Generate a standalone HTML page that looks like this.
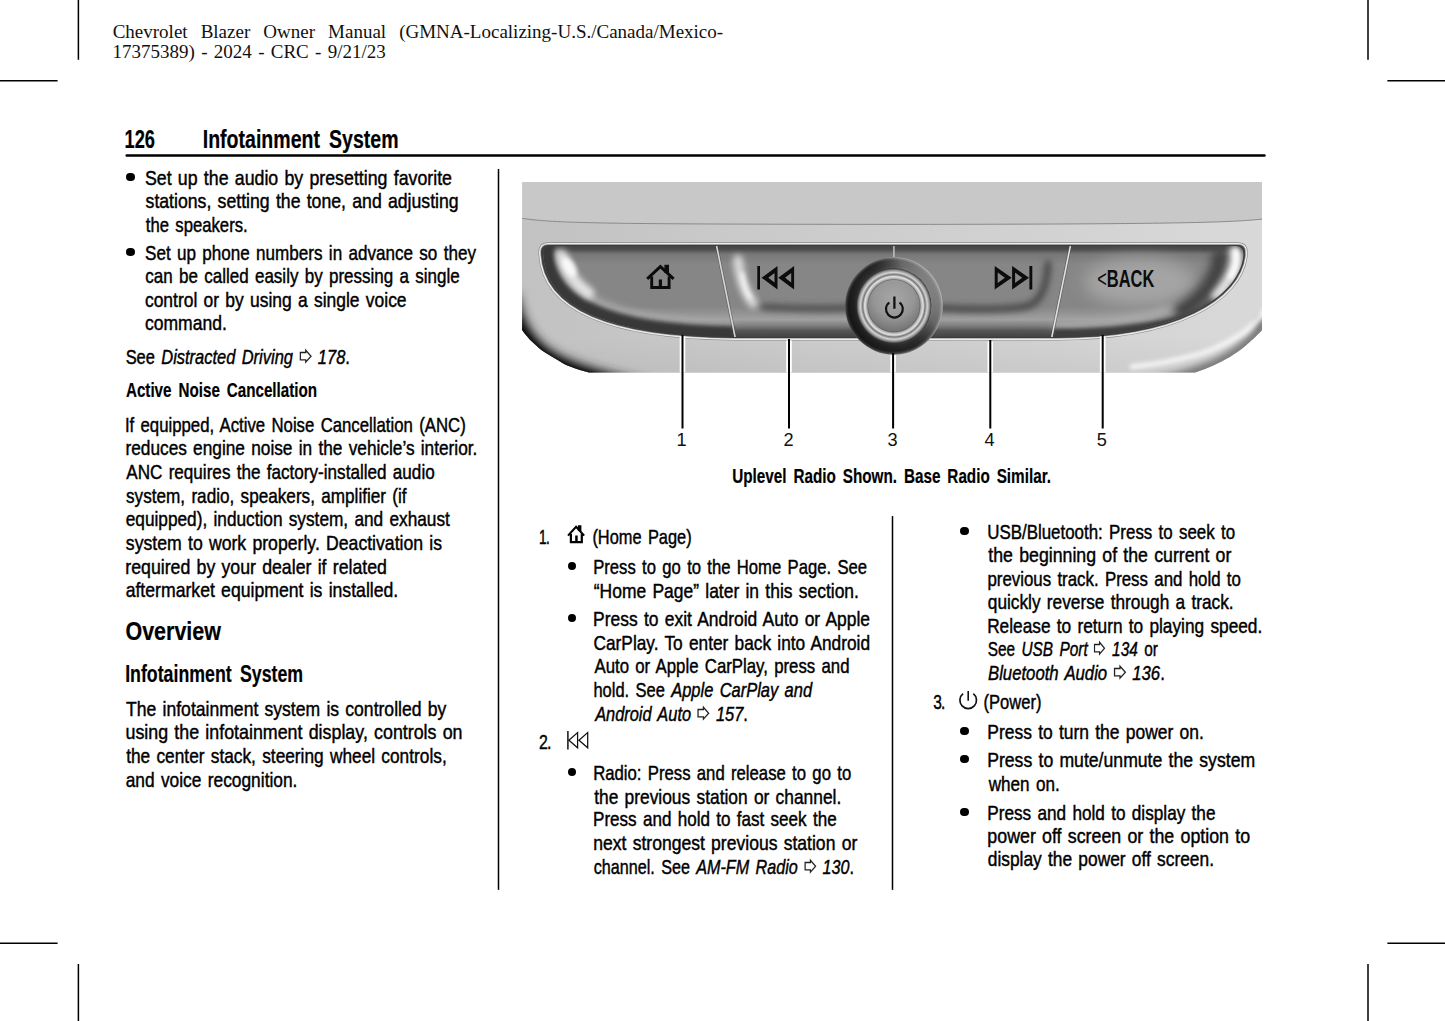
<!DOCTYPE html>
<html lang="en"><head><meta charset="utf-8"><title>Infotainment System</title>
<style>
html,body{margin:0;padding:0;background:#fff}
body{width:1445px;height:1021px;position:relative;overflow:hidden;font-family:"Liberation Sans",sans-serif;color:#000}
#gfx{position:absolute;left:0;top:0}
.t{position:absolute;left:0;white-space:nowrap;transform-origin:0 0;line-height:1;margin:0;padding:0}
.b{font-size:21px;-webkit-text-stroke:0.45px #000}
.n{font-size:21px;-webkit-text-stroke:0.45px #000;letter-spacing:-1px}
.bb{font-size:21px;font-weight:bold;-webkit-text-stroke:0.2px #000}
.s{font-family:"Liberation Serif",serif;font-size:19px;color:#111}
.h1{font-size:25.5px;font-weight:bold;-webkit-text-stroke:0.2px #000}
.h2{font-size:25.5px;font-weight:bold;-webkit-text-stroke:0.2px #000}
.h3{font-size:23px;font-weight:bold;-webkit-text-stroke:0.2px #000}
.ar{display:inline-block;width:15.6px;height:14.4px;vertical-align:0.6px;overflow:visible}
.ic{position:absolute;overflow:visible}
.dot{position:absolute;width:8.4px;height:8.4px;border-radius:50%;background:#000}
i{font-style:italic}
</style></head><body>
<svg id="gfx" width="1445" height="1021" viewBox="0 0 1445 1021">
<defs>
  <linearGradient id="bgLowH" x1="521" y1="0" x2="1262" y2="0" gradientUnits="userSpaceOnUse">
    <stop offset="0" stop-color="#c2c2c2"/><stop offset="0.35" stop-color="#cbcbcb"/><stop offset="0.7" stop-color="#d2d2d2"/><stop offset="1" stop-color="#d9d9d9"/>
  </linearGradient>
  <linearGradient id="bgLowV" x1="0" y1="224" x2="0" y2="373" gradientUnits="userSpaceOnUse">
    <stop offset="0" stop-color="#000" stop-opacity="0"/><stop offset="0.75" stop-color="#000" stop-opacity="0"/><stop offset="1" stop-color="#000" stop-opacity="0.04"/>
  </linearGradient>
  <linearGradient id="face" x1="0" y1="246" x2="0" y2="338" gradientUnits="userSpaceOnUse">
    <stop offset="0" stop-color="#444"/><stop offset="0.035" stop-color="#4c4c4c"/><stop offset="0.09" stop-color="#787878"/><stop offset="0.2" stop-color="#868686"/><stop offset="0.66" stop-color="#868686"/><stop offset="0.8" stop-color="#a0a0a0"/><stop offset="0.87" stop-color="#7c7c7c"/><stop offset="0.92" stop-color="#565656"/><stop offset="1" stop-color="#404040"/>
  </linearGradient>
  <radialGradient id="knobOuter" cx="893.9" cy="305.8" r="48.8" gradientUnits="userSpaceOnUse">
    <stop offset="0.74" stop-color="#404040"/><stop offset="0.82" stop-color="#2a2a2a"/><stop offset="0.93" stop-color="#222"/><stop offset="0.97" stop-color="#444"/><stop offset="1" stop-color="#808080"/>
  </radialGradient>
  <linearGradient id="knobSheen" x1="850" y1="330" x2="940" y2="280" gradientUnits="userSpaceOnUse">
    <stop offset="0" stop-color="#000" stop-opacity="0.4"/><stop offset="0.4" stop-color="#000" stop-opacity="0"/><stop offset="0.75" stop-color="#fff" stop-opacity="0.3"/><stop offset="1" stop-color="#fff" stop-opacity="0.5"/>
  </linearGradient>
  <radialGradient id="knobMid" cx="893.9" cy="305.8" r="37.5" gradientUnits="userSpaceOnUse">
    <stop offset="0.68" stop-color="#3c3c3c"/><stop offset="0.72" stop-color="#a8a8a8"/><stop offset="0.78" stop-color="#e4e4e4"/><stop offset="0.83" stop-color="#787878"/><stop offset="0.89" stop-color="#d4d4d4"/><stop offset="0.95" stop-color="#8c8c8c"/><stop offset="1" stop-color="#303030"/>
  </radialGradient>
  <radialGradient id="knobIn" cx="893.9" cy="298" r="36" gradientUnits="userSpaceOnUse">
    <stop offset="0" stop-color="#a6a6a6"/><stop offset="0.55" stop-color="#969696"/><stop offset="1" stop-color="#6e6e6e"/>
  </radialGradient>
  <path id="outl" d="M548 243.6 H1238.4 Q1246.4 243.9 1246.4 252 V256 C1241 300 1178 340 1053.4 339.2 H734 C598 338 541 305 539.7 252 Q539.7 243.9 548 243.6 Z"/>
  <path id="inner" d="M551 246.1 H1235.5 Q1243.4 246.4 1243.4 253 V256 C1238.5 297.5 1176.5 337.5 1053 337 H734.4 C600 335.8 544.5 303.5 543.2 253 Q543.2 246.4 551 246.1 Z"/>
  <clipPath id="figclip"><path d="M522.1 181.9 H1262 V330.3 C1259.5 333 1257 335.5 1254.8 337.4 C1252 340 1249 342.6 1246.4 344.9 C1243.5 347.2 1241 349.4 1238.1 351.5 C1235 353.6 1232.5 355.2 1229.8 356.9 C1227 358.5 1224.2 360 1221.5 361.5 C1218.8 363 1216 364.3 1213.2 365.6 C1210.5 366.8 1207.7 368 1204.9 369 C1202 370.1 1199.4 371 1196.6 371.9 L1195 372.5 H589 C583 371 577 369 570.8 366.7 C566 365 562 363 558.4 360.4 C554 358 550 355.5 545.9 353 C541 350 537 346.5 533.5 343 C529 339 525 334 522.1 329.9 Z"/></clipPath>
  <clipPath id="innerclip"><use href="#inner"/></clipPath>
  <filter id="b1" filterUnits="userSpaceOnUse" x="480" y="140" width="840" height="280"><feGaussianBlur stdDeviation="1.2"/></filter>
  <filter id="b2" filterUnits="userSpaceOnUse" x="480" y="140" width="840" height="280"><feGaussianBlur stdDeviation="2"/></filter>
  <filter id="b3" filterUnits="userSpaceOnUse" x="480" y="140" width="840" height="280"><feGaussianBlur stdDeviation="3"/></filter>
  <filter id="b5" filterUnits="userSpaceOnUse" x="460" y="120" width="880" height="320"><feGaussianBlur stdDeviation="5"/></filter>
  <filter id="b8" filterUnits="userSpaceOnUse" x="440" y="100" width="920" height="360"><feGaussianBlur stdDeviation="8"/></filter>
</defs>
<!-- crop marks -->
<g stroke="#000" stroke-width="1.5" fill="none">
  <path d="M78.4 0V59.8M0 80.8H57.6M1368 0V59.8M1387.4 80.8H1445M0 943.2H57.6M78.4 964V1021M1387.4 943.2H1445M1368 964V1021"/>
</g>
<!-- rules -->
<rect x="125.5" y="154.15" width="1140.2" height="2.6" rx="1" fill="#000"/>
<rect x="497.75" y="169" width="1.5" height="720.9" fill="#000"/>
<rect x="891.75" y="516.1" width="1.5" height="373.8" fill="#000"/>
<!-- figure -->
<g clip-path="url(#figclip)">
  <rect x="521" y="181" width="742" height="193" fill="#c8c8c8"/>
  <path d="M521 218.2 C540 221 560 222.1 600 222.9 C640 223.7 700 224.2 893 224.4 C1090 224.2 1150 223.5 1200 222.4 C1230 221.6 1248 220.6 1263 219 V374 H521 Z" fill="url(#bgLowH)"/>
  <rect x="521" y="224" width="742" height="150" fill="url(#bgLowV)"/>
  <path d="M521 218.2 C540 221 560 222.1 600 222.9 C640 223.7 700 224.2 893 224.4 C1090 224.2 1150 223.5 1200 222.4 C1230 221.6 1248 220.6 1263 219" stroke="#8a8a8a" stroke-width="1" fill="none"/>
  <!-- corner shading -->
  <path d="M506 296 C512 330 527 349 547 362 C567 374 590 381 650 395" stroke="#2a2a2a" stroke-width="26" fill="none" filter="url(#b5)"/>
  <path d="M512 318 C518 336 530 350 549 362 C568 373.5 590 380.5 640 392" stroke="#000" stroke-width="13" fill="none" filter="url(#b3)"/>
  <path d="M1264 318 C1262 326 1258 334 1254.8 337.4 C1250 342 1244 347 1238.1 351.5 C1230 357 1222 361.5 1213.2 365.6 C1205 369 1196 372.5 1180 377 L1150 384" stroke="#7c7c7c" stroke-width="12" fill="none" filter="url(#b3)"/>
  <path d="M1266 308 C1262 316 1256 322 1250.6 326.6 C1246 331 1242 334 1238.1 335.7 C1232 340 1228 342 1225.7 343.2 C1220 346 1216 348 1213.2 349 C1206 352 1200 354 1196.6 354.9 C1190 356.5 1184 358 1180 359 C1168 362 1150 365 1130 367" stroke="#fbfbfb" stroke-width="5" fill="none" filter="url(#b2)" opacity="0.85"/>
  <!-- strip -->
  <use href="#outl" fill="#3c3c3c" stroke="#8a8a8a" stroke-width="2.6"/>
  <use href="#outl" fill="none" stroke="#ececec" stroke-width="1.4"/>
  <use href="#inner" fill="url(#face)"/>
  <g clip-path="url(#innerclip)">
    <!-- lighter band + rim following the curved ends -->
    <path d="M556 250 C560 296 612 323 734.4 325.5 M1232 250 C1226 290 1170 326 1053 325.5" stroke="#a8a8a8" stroke-width="9" fill="none" filter="url(#b3)"/>
    <path d="M543.2 240 V253 C544.5 303.5 600 335.8 734.4 337" stroke="#383838" stroke-width="22" fill="none" filter="url(#b2)"/>
    <path d="M1225 300 C1195 326 1130 338 1053 337" stroke="#3c3c3c" stroke-width="16" fill="none" filter="url(#b2)"/>
    <!-- right button face -->
    <ellipse cx="1140" cy="282" rx="56" ry="24" fill="#a4a4a4" filter="url(#b8)"/>
    <path d="M1220 250 C1222 272 1208 296 1176 314" stroke="#404040" stroke-width="16" fill="none" filter="url(#b5)"/>
    <!-- highlights -->
    <path d="M562 255 C566 270 575 283 589 293" stroke="#fff" stroke-width="11" stroke-linecap="round" fill="none" filter="url(#b3)" opacity="0.75"/>
    <ellipse cx="569.5" cy="267" rx="5.5" ry="11" transform="rotate(-30 569.5 267)" fill="#fff" filter="url(#b2)" opacity="0.85"/>
    <path d="M738 260 C740 279 745 293 753 303" stroke="#fff" stroke-width="10" stroke-linecap="round" fill="none" filter="url(#b3)" opacity="0.7"/>
    <path d="M742 274 C744 285 746 292 750 297" stroke="#fff" stroke-width="4" stroke-linecap="round" fill="none" filter="url(#b2)" opacity="0.8"/>
    <path d="M1235 250 C1239 262 1234 276 1216 296" stroke="#fff" stroke-width="9" stroke-linecap="round" fill="none" filter="url(#b3)" opacity="0.85"/>
    <path d="M1236 252 C1238 260 1236 268 1231 277" stroke="#fff" stroke-width="6" stroke-linecap="round" fill="none" filter="url(#b2)" opacity="0.9"/>
    <!-- recess of middle buttons -->
    <path d="M764 307 C800 309 830 309 852 308" stroke="#484848" stroke-width="6" stroke-linecap="round" fill="none" filter="url(#b3)"/>
    <path d="M936 308 C980 310 1010 310 1028 306 Q1046 300 1048 264" stroke="#484848" stroke-width="7" stroke-linecap="round" fill="none" filter="url(#b3)"/>
    <!-- separators -->
    <path d="M716.2 244 L735.5 339" stroke="#3c3c3c" stroke-width="3" fill="none" opacity="0.5"/>
    <path d="M716.2 244 L735.5 339" stroke="#d6d6d6" stroke-width="1.6" fill="none"/>
    <path d="M1070.8 244 L1051.4 339" stroke="#3c3c3c" stroke-width="3" fill="none" opacity="0.5"/>
    <path d="M1070.8 244 L1051.4 339" stroke="#e0e0e0" stroke-width="1.6" fill="none"/>
    <path d="M893.9 244 V257" stroke="#c8c8c8" stroke-width="1.4" fill="none"/>
  </g>
  <!-- knob -->
  <circle cx="893.9" cy="305.8" r="48.8" fill="url(#knobOuter)"/>
  <circle cx="893.9" cy="305.8" r="48.8" fill="url(#knobSheen)"/>
  <circle cx="893.9" cy="305.8" r="37.5" fill="url(#knobMid)"/>
  <circle cx="893.9" cy="305.8" r="26" fill="url(#knobIn)"/>
  <!-- icons on buttons -->
  <g fill="none" stroke="#0c0c0c" stroke-width="2.6">
    <path d="M647.2 278.9 L660.4 266.6 L673.6 278.9" stroke-width="2.9"/>
    <path d="M651.7 276.4 V287.5 H669.1 V276.4" stroke-width="2.9"/>
    <path d="M666.7 264.8 V273" stroke-width="4.6"/>
    <path d="M660.4 288 V279.5" stroke-width="3.2"/>
    <path d="M758.65 266.1 V289.4" stroke-width="2.7"/>
    <path d="M761.5 277.75 L777.5 266 V289.5 Z M768.3 277.75 L774.5 273.1 V282.4 Z M778.3 277.75 L794.1 266 V289.5 Z M785.1 277.75 L791.2 273.1 V282.4 Z" fill="#0c0c0c" fill-rule="evenodd" stroke="none"/>
    <path d="M1030.85 266.1 V289.4" stroke-width="2.9"/>
    <path d="M1011.7 277.75 L994.7 266 V289.5 Z M1004.9 277.75 L997.7 272.6 V282.9 Z M1029 277.75 L1012.1 266 V289.5 Z M1022.2 277.75 L1015.1 272.6 V282.9 Z" fill="#0c0c0c" fill-rule="evenodd" stroke="none"/>
    <path d="M894.4 296.4 V308.8" stroke-width="2.3" stroke="#111"/>
    <path d="M889.3 302.5 A8.4 8.4 0 1 0 899.5 302.5" stroke-width="2.2" stroke="#111"/>
  </g>
  <text x="1097.2" y="286.8" font-family="'Liberation Sans', sans-serif" font-weight="bold" font-size="23.5" textLength="57.2" lengthAdjust="spacingAndGlyphs" fill="#0c0c0c"><tspan font-weight="normal">&lt;</tspan>BACK</text>
</g>
<!-- callouts -->
<g stroke="#fff" stroke-width="5.6" fill="none">
  <path d="M682.5 336.5V372.6M789 340.5V372.6M893.1 355V372.6M990.3 341.5V372.6M1102.7 336.5V372.6"/>
</g>
<g stroke="#000" stroke-width="2" fill="none">
  <path d="M682.5 334.8V428.4M789 339V428.4M893.1 353V428.4M990.3 340V428.4M1102.7 334.8V428.4"/>
</g>
<g font-family="'Liberation Sans', sans-serif" font-size="18.2" fill="#111" text-anchor="middle">
  <text x="681.6" y="446.2">1</text><text x="788.6" y="446.2">2</text><text x="892.5" y="446.2">3</text><text x="989.5" y="446.2">4</text><text x="1101.8" y="446.2">5</text>
</g>
</svg>

<div class="t s" style="top:22px;word-spacing:8.310px;transform:translateX(112.67px)">Chevrolet Blazer Owner Manual (GMNA-Localizing-U.S./Canada/Mexico-</div>
<div class="t s" style="top:42px;word-spacing:1.544px;transform:translateX(112.61px)">17375389) - 2024 - CRC - 9/21/23</div>
<div class="t h1" style="top:127px;transform:translateX(124.56px) scaleX(0.7152)">126</div>
<div class="t h1" style="top:127px;word-spacing:4.84px;transform:translateX(202.75px) scaleX(0.7660)">Infotainment System</div>
<div class="t b" style="top:167px;word-spacing:1.53px;transform:translateX(144.96px) scaleX(0.8459)">Set up the audio by presetting favorite</div>
<div class="t b" style="top:190px;word-spacing:1.57px;transform:translateX(145.54px) scaleX(0.8416)">stations, setting the tone, and adjusting</div>
<div class="t b" style="top:214px;word-spacing:2.12px;transform:translateX(145.84px) scaleX(0.7944)">the speakers.</div>
<div class="t b" style="top:242px;word-spacing:1.89px;transform:translateX(145.05px) scaleX(0.8137)">Set up phone numbers in advance so they</div>
<div class="t b" style="top:265px;word-spacing:1.93px;transform:translateX(145.34px) scaleX(0.8096)">can be called easily by pressing a single</div>
<div class="t b" style="top:289px;word-spacing:1.69px;transform:translateX(144.94px) scaleX(0.8311)">control or by using a single voice</div>
<div class="t b" style="top:312px;transform:translateX(144.94px) scaleX(0.8351)">command.</div>
<div class="t b" style="top:346px;word-spacing:2.24px;transform:translateX(125.63px) scaleX(0.7840)">See <i>Distracted Driving</i> <svg class="ar" viewBox="0 0 12.7 14.4" preserveAspectRatio="none"><path d="M0.7 3.5H6.3V1.2L11.8 7.2L6.3 13.2V10.9H0.7Z" fill="none" stroke="#222" stroke-width="1.3" stroke-linejoin="miter"/></svg> <i>178</i>.</div>
<div class="t bb" style="top:379px;word-spacing:3.78px;transform:translateX(125.93px) scaleX(0.7232)">Active Noise Cancellation</div>
<div class="t b" style="top:414px;word-spacing:2.08px;transform:translateX(124.88px) scaleX(0.7980)">If equipped, Active Noise Cancellation (ANC)</div>
<div class="t b" style="top:437px;word-spacing:1.78px;transform:translateX(125.47px) scaleX(0.8218)">reduces engine noise in the vehicle’s interior.</div>
<div class="t b" style="top:461px;word-spacing:1.88px;transform:translateX(126.24px) scaleX(0.8145)">ANC requires the factory-installed audio</div>
<div class="t b" style="top:485px;word-spacing:1.85px;transform:translateX(126.04px) scaleX(0.8167)">system, radio, speakers, amplifier (if</div>
<div class="t b" style="top:508px;word-spacing:1.80px;transform:translateX(125.74px) scaleX(0.8209)">equipped), induction system, and exhaust</div>
<div class="t b" style="top:532px;word-spacing:1.58px;transform:translateX(125.86px) scaleX(0.8404)">system to work properly. Deactivation is</div>
<div class="t b" style="top:556px;word-spacing:1.55px;transform:translateX(125.31px) scaleX(0.8436)">required by your dealer if related</div>
<div class="t b" style="top:579px;word-spacing:1.59px;transform:translateX(125.66px) scaleX(0.8398)">aftermarket equipment is installed.</div>
<div class="t h2" style="top:619px;transform:translateX(125.50px) scaleX(0.8414)">Overview</div>
<div class="t h3" style="top:663px;word-spacing:4.41px;transform:translateX(125.15px) scaleX(0.7717)">Infotainment System</div>
<div class="t b" style="top:698px;word-spacing:1.62px;transform:translateX(126.06px) scaleX(0.8366)">The infotainment system is controlled by</div>
<div class="t b" style="top:721px;word-spacing:1.48px;transform:translateX(125.49px) scaleX(0.8492)">using the infotainment display, controls on</div>
<div class="t b" style="top:745px;word-spacing:1.79px;transform:translateX(126.18px) scaleX(0.8229)">the center stack, steering wheel controls,</div>
<div class="t b" style="top:769px;word-spacing:1.74px;transform:translateX(125.72px) scaleX(0.8264)">and voice recognition.</div>
<div class="t bb" style="top:465px;word-spacing:3.67px;transform:translateX(732.26px) scaleX(0.7269)">Uplevel Radio Shown. Base Radio Similar.</div>
<div class="t n" style="top:526px;transform:translateX(539.02px) scaleX(0.6525)">1.</div>
<div class="t b" style="top:526px;word-spacing:2.30px;transform:translateX(592.39px) scaleX(0.7804)">(Home Page)</div>
<div class="t b" style="top:556px;word-spacing:2.13px;transform:translateX(593.19px) scaleX(0.7932)">Press to go to the Home Page. See</div>
<div class="t b" style="top:580px;word-spacing:1.69px;transform:translateX(593.81px) scaleX(0.8312)">“Home Page” later in this section.</div>
<div class="t b" style="top:608px;word-spacing:1.69px;transform:translateX(593.12px) scaleX(0.8304)">Press to exit Android Auto or Apple</div>
<div class="t b" style="top:632px;word-spacing:1.79px;transform:translateX(593.53px) scaleX(0.8224)">CarPlay. To enter back into Android</div>
<div class="t b" style="top:655px;word-spacing:2.06px;transform:translateX(594.46px) scaleX(0.7988)">Auto or Apple CarPlay, press and</div>
<div class="t b" style="top:679px;word-spacing:2.23px;transform:translateX(593.45px) scaleX(0.7847)">hold. See <i>Apple CarPlay and</i></div>
<div class="t b" style="top:703px;word-spacing:2.28px;transform:translateX(595.14px) scaleX(0.7804)"><i>Android Auto</i> <svg class="ar" viewBox="0 0 12.7 14.4" preserveAspectRatio="none"><path d="M0.7 3.5H6.3V1.2L11.8 7.2L6.3 13.2V10.9H0.7Z" fill="none" stroke="#222" stroke-width="1.3" stroke-linejoin="miter"/></svg> <i>157</i>.</div>
<div class="t n" style="top:731px;transform:translateX(538.95px) scaleX(0.7571)">2.</div>
<div class="t b" style="top:762px;word-spacing:2.11px;transform:translateX(593.18px) scaleX(0.7955)">Radio: Press and release to go to</div>
<div class="t b" style="top:786px;word-spacing:1.74px;transform:translateX(594.18px) scaleX(0.8268)">the previous station or channel.</div>
<div class="t b" style="top:808px;word-spacing:1.91px;transform:translateX(593.02px) scaleX(0.8126)">Press and hold to fast seek the</div>
<div class="t b" style="top:832px;word-spacing:1.63px;transform:translateX(593.28px) scaleX(0.8357)">next strongest previous station or</div>
<div class="t b" style="top:856px;word-spacing:2.44px;transform:translateX(593.69px) scaleX(0.7692)">channel. See <i>AM-FM Radio</i> <svg class="ar" viewBox="0 0 12.7 14.4" preserveAspectRatio="none"><path d="M0.7 3.5H6.3V1.2L11.8 7.2L6.3 13.2V10.9H0.7Z" fill="none" stroke="#222" stroke-width="1.3" stroke-linejoin="miter"/></svg> <i>130</i>.</div>
<div class="t b" style="top:521px;word-spacing:2.00px;transform:translateX(987.27px) scaleX(0.8045)">USB/Bluetooth: Press to seek to</div>
<div class="t b" style="top:544px;word-spacing:1.55px;transform:translateX(988.32px) scaleX(0.8440)">the beginning of the current or</div>
<div class="t b" style="top:568px;word-spacing:2.03px;transform:translateX(987.40px) scaleX(0.8023)">previous track. Press and hold to</div>
<div class="t b" style="top:591px;word-spacing:1.78px;transform:translateX(987.77px) scaleX(0.8225)">quickly reverse through a track.</div>
<div class="t b" style="top:615px;word-spacing:1.80px;transform:translateX(987.16px) scaleX(0.8218)">Release to return to playing speed.</div>
<div class="t b" style="top:638px;word-spacing:2.95px;transform:translateX(987.68px) scaleX(0.7325)">See <i>USB Port</i> <svg class="ar" viewBox="0 0 12.7 14.4" preserveAspectRatio="none"><path d="M0.7 3.5H6.3V1.2L11.8 7.2L6.3 13.2V10.9H0.7Z" fill="none" stroke="#222" stroke-width="1.3" stroke-linejoin="miter"/></svg> <i>134</i> or</div>
<div class="t b" style="top:662px;word-spacing:2.10px;transform:translateX(987.99px) scaleX(0.7966)"><i>Bluetooth Audio</i> <svg class="ar" viewBox="0 0 12.7 14.4" preserveAspectRatio="none"><path d="M0.7 3.5H6.3V1.2L11.8 7.2L6.3 13.2V10.9H0.7Z" fill="none" stroke="#222" stroke-width="1.3" stroke-linejoin="miter"/></svg> <i>136</i>.</div>
<div class="t n" style="top:691px;transform:translateX(933.13px) scaleX(0.7376)">3.</div>
<div class="t b" style="top:691px;transform:translateX(983.52px) scaleX(0.7873)">(Power)</div>
<div class="t b" style="top:721px;word-spacing:1.68px;transform:translateX(987.30px) scaleX(0.8308)">Press to turn the power on.</div>
<div class="t b" style="top:749px;word-spacing:1.59px;transform:translateX(987.18px) scaleX(0.8396)">Press to mute/unmute the system</div>
<div class="t b" style="top:773px;word-spacing:1.84px;transform:translateX(988.67px) scaleX(0.8157)">when on.</div>
<div class="t b" style="top:802px;word-spacing:1.84px;transform:translateX(987.24px) scaleX(0.8185)">Press and hold to display the</div>
<div class="t b" style="top:825px;word-spacing:1.50px;transform:translateX(987.37px) scaleX(0.8480)">power off screen or the option to</div>
<div class="t b" style="top:848px;word-spacing:1.75px;transform:translateX(987.77px) scaleX(0.8257)">display the power off screen.</div>
<span class="dot" style="left:126.20px;top:172.80px"></span>
<span class="dot" style="left:126.20px;top:247.80px"></span>
<span class="dot" style="left:567.90px;top:561.80px"></span>
<span class="dot" style="left:567.90px;top:613.80px"></span>
<span class="dot" style="left:567.90px;top:767.80px"></span>
<span class="dot" style="left:960.20px;top:526.80px"></span>
<span class="dot" style="left:960.20px;top:726.80px"></span>
<span class="dot" style="left:960.20px;top:754.80px"></span>
<span class="dot" style="left:960.20px;top:807.80px"></span>
<svg class="ic" style="left:567.4px;top:525.4px;width:18.4px;height:18.4px" viewBox="0 0 18.4 18.4"><path d="M1 10.6L9.1 1.7L17.2 10.6" fill="none" stroke="#000" stroke-width="2.1"/><path d="M3.9 8.8V17.2H14.8V8.8" fill="none" stroke="#000" stroke-width="2.2"/><path d="M10.9 0.2H14.4V6H10.9ZM8.2 10.4H10.7V17H8.2Z" fill="#000"/></svg>
<svg class="ic" style="left:566.7px;top:730.8px;width:21.6px;height:18.4px" viewBox="0 0 21.6 18.4"><path d="M0.9 0V18.4" stroke="#111" stroke-width="1.5" fill="none"/><path d="M10.6 1.6V16.8L1.9 9.2ZM20.7 1.6V16.8L12 9.2Z" fill="none" stroke="#111" stroke-width="1.25"/></svg>
<svg class="ic" style="left:959.0px;top:690.8px;width:18.4px;height:18.4px" viewBox="0 0 18.4 18.4"><path d="M9.2 0V9.8" stroke="#111" stroke-width="1.6" fill="none"/><path d="M4.1 2.7A8.3 8.3 0 1 0 14.3 2.7" fill="none" stroke="#111" stroke-width="1.7"/></svg>
</body></html>
